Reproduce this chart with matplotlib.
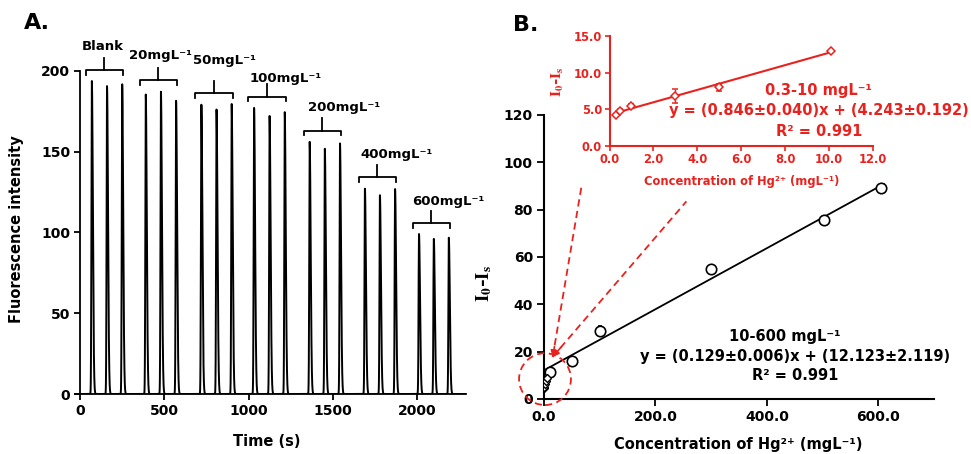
import numpy as np
import matplotlib
matplotlib.use('Agg')
import matplotlib.pyplot as plt
from matplotlib.patches import Ellipse
from matplotlib.ticker import FormatStrFormatter

# ---------------- data ----------------
# Panel A: peak times (s) and peak heights per concentration group
groups = ['Blank', '20mgL⁻¹', '50mgL⁻¹', '100mgL⁻¹', '200mgL⁻¹', '400mgL⁻¹', '600mgL⁻¹']
peak_times = [[70, 160, 250], [390, 480, 570], [720, 810, 900], [1033, 1125, 1215],
              [1363, 1453, 1543], [1691, 1780, 1870], [2012, 2100, 2189]]
peak_heights = [[193.6, 190.5, 191.6], [185.3, 187.0, 181.4], [179.0, 176.0, 179.4],
                [177.0, 172.0, 174.4], [156.0, 151.7, 155.0], [127.0, 123.0, 126.8],
                [99.0, 96.0, 96.7]]
label_pos = [(137, 215), (475, 209.6), (855, 206.6), (1219, 195), (1567, 177), (1880, 148), (2185, 119)]
a_xticks = [0, 500, 1000, 1500, 2000]
a_yticks = [0, 50, 100, 150, 200]

# Panel B main calibration
conc_low = [0.3, 0.5, 1.0, 3.0, 5.0]
resp_low = [4.5, 5.2, 6.2, 7.5, 9.0]
err_low = [0.3, 0.3, 0.4, 0.8, 0.5]
conc_high = [10, 50, 100, 300, 503, 604]
resp_high = [11.5, 16.0, 28.9, 55.0, 75.8, 89.0]
err_high = [1.2, 0.8, 2.0, 1.0, 1.2, 1.8]
fit_main = (0.129, 12.123)
fit_main_range = [0, 610]
b_xticks = [0, 200, 400, 600]
b_yticks = [0, 20, 40, 60, 80, 100, 120]

# Panel B inset calibration
conc_in = [0.3, 0.5, 1.0, 3.0, 5.0, 10.1]
resp_in = [4.2, 4.8, 5.4, 6.8, 8.0, 12.95]
err_in = [0.2, 0.2, 0.3, 0.9, 0.5, 0.2]
fit_in = (0.846, 4.243)
fit_in_range = [0.3, 10.1]
in_xticks = [0, 2, 4, 6, 8, 10, 12]
in_yticks = [0, 5, 10, 15]

RED = '#e8221e'
W, H = 971, 454

plt.rcParams['font.family'] = 'DejaVu Sans'
plt.rcParams['font.weight'] = 'bold'
plt.rcParams['axes.labelweight'] = 'bold'

fig = plt.figure(figsize=(W / 100, H / 100), dpi=100)


def ftext(x, y, s, **kw):
    kw.setdefault('ha', 'center')
    kw.setdefault('va', 'center')
    fig.text(x / W, 1 - y / H, s, **kw)


def axes_px(l, r, b, t):
    return fig.add_axes([l / W, 1 - b / H, (r - l) / W, (b - t) / H])


# ---------------- Panel A ----------------
axA = axes_px(75, 466, 394, 70.7)
t = np.linspace(-30, 2291, 12000)
sig = np.zeros_like(t)
for times, heights in zip(peak_times, peak_heights):
    for t0, h in zip(times, heights):
        d = t - t0
        s = np.where(d < 0, np.exp(-0.5 * (d / 2.5) ** 2), np.exp(-0.5 * (d / 6.0) ** 2))
        sig += h * s
sig[t < 0] = np.nan
axA.plot(t, sig, color='black', lw=1.4)
axA.set_xlim(-30, 2291)
axA.set_ylim(0, 200)
axA.spines['left'].set_position(('data', 0))
for sp in ['top', 'right']:
    axA.spines[sp].set_visible(False)
for sp in ['left', 'bottom']:
    axA.spines[sp].set_linewidth(1.3)
axA.set_xticks(a_xticks)
axA.set_yticks(a_yticks)
axA.tick_params(direction='out', length=4, width=1.3, labelsize=10, pad=3)
for lab in axA.get_xticklabels() + axA.get_yticklabels():
    lab.set_fontweight('bold')

for times, heights, name, (lx, ly) in zip(peak_times, peak_heights, groups, label_pos):
    x0 = times[0] - 35
    x1 = times[-1] + 5
    yb = max(heights) + 7
    xm = (x0 + x1) / 2
    axA.plot([x0, x0, x1, x1], [yb - 3, yb, yb, yb - 3], color='black', lw=1.3, clip_on=False)
    axA.plot([xm, xm], [yb, yb + 7.5], color='black', lw=1.3, clip_on=False)
    axA.text(lx, ly, name, ha='center', va='center', fontsize=9.5, fontweight='bold', clip_on=False)

ftext(37, 23, 'A.', fontsize=16, fontweight='bold')
ftext(17, 229, 'Fluorescence intensity', rotation=90, fontsize=10.5, fontweight='bold')
ftext(267, 441, 'Time (s)', fontsize=10.5, fontweight='bold')

# ---------------- Panel B main ----------------
axB = axes_px(544, 934, 399, 115)
xf = np.array(fit_main_range, dtype=float)
axB.plot(xf, fit_main[0] * xf + fit_main[1], color='black', lw=1.3, zorder=2)
axB.errorbar(conc_high, resp_high, yerr=err_high, fmt='o', ms=7.5, mfc='white', mec='black',
             mew=1.2, ecolor='black', elinewidth=0.8, capsize=1.5, zorder=3)
axB.errorbar(conc_low, resp_low, yerr=err_low, fmt='D', ms=4.5, mfc='white', mec='black',
             mew=1.0, ecolor='black', elinewidth=0.8, capsize=1.0, zorder=3)
axB.set_xlim(0, 700)
axB.set_ylim(0, 120)
for sp in ['top', 'right']:
    axB.spines[sp].set_visible(False)
for sp in ['left', 'bottom']:
    axB.spines[sp].set_linewidth(1.5)
axB.set_xticks(b_xticks)
axB.set_yticks(b_yticks)
axB.xaxis.set_major_formatter(FormatStrFormatter('%.1f'))
axB.tick_params(direction='out', length=5, width=1.3, labelsize=10, pad=3)
for lab in axB.get_xticklabels() + axB.get_yticklabels():
    lab.set_fontweight('bold')

ftext(526, 25, 'B.', fontsize=16, fontweight='bold')
ftext(738, 444, 'Concentration of Hg²⁺ (mgL⁻¹)', fontsize=10.5, fontweight='bold')
ftext(484, 283, r'$\mathbf{I_0}$-$\mathbf{I_s}$', rotation=90, fontsize=13.5,
      fontweight='bold', family='DejaVu Serif', math_fontfamily='stix')
ftext(785, 337, '10-600 mgL⁻¹', fontsize=10.5, fontweight='bold')
ftext(795, 356, 'y = (0.129±0.006)x + (12.123±2.119)', fontsize=10.5, fontweight='bold')
ftext(795, 375, 'R² = 0.991', fontsize=10.5, fontweight='bold')

# red dashed zoom indicator
axB.add_patch(Ellipse((1.8, 8.4), 93.1, 21.9, fill=False, edgecolor=RED, lw=1.3,
                      ls=(0, (4, 2.5)), clip_on=False, zorder=4))
tip = (15.6, 17.8)
for end in [(67.5, 90.1), (255.6, 83.5)]:
    axB.plot([tip[0], end[0]], [tip[1], end[1]], color=RED, lw=1.3, ls=(0, (4, 2.5)),
             clip_on=False, zorder=4)
    back = (tip[0] + (end[0] - tip[0]) * 0.06, tip[1] + (end[1] - tip[1]) * 0.06)
    axB.annotate('', xy=tip, xytext=back,
                 arrowprops=dict(arrowstyle='-|>', color=RED, lw=1.2, mutation_scale=9,
                                 shrinkA=0, shrinkB=0))

# ---------------- Panel B inset ----------------
axI = axes_px(609.5, 872.7, 145.7, 36)
axI.patch.set_alpha(0)
xi = np.array(fit_in_range, dtype=float)
axI.plot(xi, fit_in[0] * xi + fit_in[1], color=RED, lw=1.5, zorder=2)
axI.errorbar(conc_in, resp_in, yerr=err_in, fmt='D', ms=4.5, mfc='white', mec=RED,
             mew=1.1, ecolor=RED, elinewidth=1.0, capsize=2, zorder=3)
axI.set_xlim(0, 12)
axI.set_ylim(0, 15)
for sp in ['top', 'right']:
    axI.spines[sp].set_visible(False)
for sp in ['left', 'bottom']:
    axI.spines[sp].set_linewidth(1.5)
    axI.spines[sp].set_color(RED)
axI.set_xticks(in_xticks)
axI.set_yticks(in_yticks)
axI.xaxis.set_major_formatter(FormatStrFormatter('%.1f'))
axI.yaxis.set_major_formatter(FormatStrFormatter('%.1f'))
axI.tick_params(direction='out', length=3.5, width=1.2, labelsize=8.3, pad=2,
                color=RED, labelcolor=RED)
for lab in axI.get_xticklabels() + axI.get_yticklabels():
    lab.set_fontweight('bold')

ftext(742, 182, 'Concentration of Hg²⁺ (mgL⁻¹)', fontsize=8.3, fontweight='bold', color=RED)
ftext(558, 82, r'$\mathbf{I_0}$-$\mathbf{I_s}$', rotation=90, fontsize=11,
      fontweight='bold', color=RED, math_fontfamily='stix')
ftext(818, 90, '0.3-10 mgL⁻¹', fontsize=10.5, fontweight='bold', color=RED)
ftext(819, 111, 'y = (0.846±0.040)x + (4.243±0.192)', fontsize=10.5, fontweight='bold', color=RED)
ftext(819, 131, 'R² = 0.991', fontsize=10.5, fontweight='bold', color=RED)

fig.savefig('out.png', dpi=100)
